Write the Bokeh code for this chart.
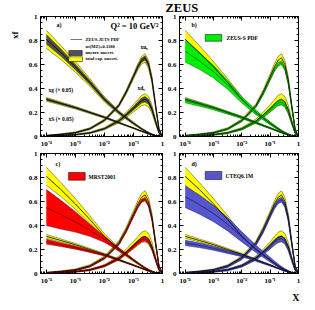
from math import pi
import numpy as np
from bokeh.plotting import figure
from bokeh.layouts import gridplot
from bokeh.models import (LinearAxis, LogAxis, FixedTicker, Label, BoxAnnotation,
                          CustomJSTickFormatter, Range1d)
from bokeh.embed import file_html
from bokeh.resources import INLINE

FONT = "Liberation Serif"

# ---------------- data ----------------
LOG_X = [-4, -3.5, -3, -2.5, -2, -1.5, -1.25, -1, -0.85, -0.72, -0.6, -0.48, -0.36, -0.24, -0.12, 0]
X = [10.0 ** e for e in LOG_X]

X_TICKS = [1e-4, 1e-3, 1e-2, 1e-1, 1]
Y_TICKS = [0, 0.2, 0.4, 0.6, 0.8, 1]

# ZEUS-JETS PDF: central values, total exp. half-width, uncorrelated half-width
ZJ_UV = [0.008, 0.018, 0.032, 0.065, 0.135, 0.26, 0.37, 0.50, 0.58, 0.635, 0.655, 0.60, 0.47, 0.26, 0.06, 0.0]
ZJ_UV_TOT = [0.003, 0.004, 0.006, 0.008, 0.01, 0.013, 0.017, 0.022, 0.027, 0.032, 0.035, 0.034, 0.028, 0.018, 0.006, 0.0]
ZJ_UV_UNC = [0.0015, 0.002, 0.003, 0.004, 0.005, 0.007, 0.009, 0.011, 0.013, 0.016, 0.017, 0.016, 0.013, 0.008, 0.003, 0.0]

ZJ_DV = [0.004, 0.008, 0.015, 0.03, 0.065, 0.13, 0.18, 0.235, 0.27, 0.30, 0.31, 0.29, 0.225, 0.125, 0.03, 0.0]
ZJ_DV_TOT = [0.002, 0.003, 0.004, 0.006, 0.009, 0.016, 0.022, 0.03, 0.037, 0.043, 0.046, 0.043, 0.034, 0.021, 0.007, 0.0]
ZJ_DV_UNC = [0.001, 0.0015, 0.002, 0.003, 0.0045, 0.008, 0.011, 0.015, 0.018, 0.021, 0.023, 0.021, 0.017, 0.01, 0.0035, 0.0]

ZJ_G = [0.81, 0.70, 0.58, 0.45, 0.31, 0.20, 0.155, 0.11, 0.085, 0.064, 0.046, 0.031, 0.018, 0.008, 0.002, 0.0]
ZJ_G_TOT = [0.075, 0.058, 0.044, 0.032, 0.022, 0.015, 0.012, 0.01, 0.008, 0.007, 0.006, 0.005, 0.004, 0.003, 0.001, 0.0]
ZJ_G_UNC = [0.04, 0.03, 0.023, 0.017, 0.012, 0.008, 0.0065, 0.0055, 0.0045, 0.004, 0.0035, 0.003, 0.002, 0.0015, 0.0005, 0.0]

ZJ_S = [0.31, 0.275, 0.24, 0.20, 0.16, 0.115, 0.092, 0.07, 0.056, 0.044, 0.033, 0.023, 0.014, 0.006, 0.002, 0.0]
ZJ_S_TOT = [0.016, 0.013, 0.011, 0.009, 0.008, 0.006, 0.005, 0.0045, 0.004, 0.0035, 0.003, 0.0025, 0.002, 0.0015, 0.0005, 0.0]
ZJ_S_UNC = [0.008, 0.0065, 0.0055, 0.0045, 0.004, 0.003, 0.0025, 0.0022, 0.002, 0.0018, 0.0015, 0.0012, 0.001, 0.0008, 0.0003, 0.0]

# ZEUS-S PDF
ZS_UV = [0.007, 0.016, 0.03, 0.062, 0.13, 0.25, 0.355, 0.48, 0.555, 0.60, 0.615, 0.565, 0.445, 0.25, 0.058, 0.0]
ZS_UV_ERR = [0.002, 0.003, 0.004, 0.005, 0.007, 0.009, 0.011, 0.013, 0.014, 0.015, 0.016, 0.015, 0.013, 0.009, 0.004, 0.0]
ZS_DV = [0.004, 0.008, 0.015, 0.03, 0.062, 0.122, 0.168, 0.22, 0.253, 0.278, 0.285, 0.265, 0.205, 0.115, 0.028, 0.0]
ZS_DV_ERR = [0.002, 0.003, 0.004, 0.005, 0.007, 0.01, 0.012, 0.015, 0.017, 0.019, 0.02, 0.019, 0.016, 0.01, 0.004, 0.0]
ZS_G = [0.71, 0.63, 0.54, 0.43, 0.305, 0.20, 0.155, 0.11, 0.085, 0.064, 0.046, 0.031, 0.018, 0.008, 0.002, 0.0]
ZS_G_ERR = [0.09, 0.07, 0.052, 0.037, 0.026, 0.018, 0.015, 0.012, 0.01, 0.008, 0.007, 0.006, 0.004, 0.003, 0.001, 0.0]
ZS_S = [0.30, 0.268, 0.235, 0.197, 0.158, 0.114, 0.091, 0.07, 0.056, 0.044, 0.033, 0.023, 0.014, 0.006, 0.002, 0.0]
ZS_S_ERR = [0.018, 0.015, 0.013, 0.011, 0.009, 0.007, 0.006, 0.005, 0.0045, 0.004, 0.0035, 0.003, 0.002, 0.0015, 0.0005, 0.0]

# MRST2001
MR_UV = [0.006, 0.014, 0.027, 0.058, 0.125, 0.245, 0.35, 0.48, 0.555, 0.605, 0.62, 0.57, 0.45, 0.255, 0.06, 0.0]
MR_UV_ERR = [0.002, 0.003, 0.004, 0.005, 0.006, 0.008, 0.009, 0.011, 0.012, 0.013, 0.014, 0.013, 0.011, 0.008, 0.003, 0.0]
MR_DV = [0.004, 0.008, 0.015, 0.03, 0.063, 0.125, 0.172, 0.225, 0.258, 0.283, 0.29, 0.27, 0.208, 0.115, 0.028, 0.0]
MR_DV_ERR = [0.002, 0.003, 0.004, 0.005, 0.007, 0.01, 0.012, 0.014, 0.016, 0.018, 0.019, 0.018, 0.015, 0.01, 0.004, 0.0]
MR_G = [0.55, 0.49, 0.43, 0.36, 0.285, 0.20, 0.157, 0.113, 0.087, 0.065, 0.046, 0.03, 0.017, 0.007, 0.0015, 0.0]
MR_G_ERR = [0.15, 0.12, 0.085, 0.05, 0.025, 0.012, 0.009, 0.007, 0.006, 0.005, 0.004, 0.003, 0.002, 0.0015, 0.0005, 0.0]
MR_S = [0.265, 0.24, 0.215, 0.185, 0.153, 0.112, 0.09, 0.069, 0.055, 0.043, 0.032, 0.022, 0.013, 0.006, 0.002, 0.0]
MR_S_ERR = [0.02, 0.015, 0.012, 0.009, 0.007, 0.005, 0.004, 0.0035, 0.003, 0.0025, 0.002, 0.0015, 0.001, 0.001, 0.0005, 0.0]

# CTEQ6.1M
CT_UV = [0.006, 0.014, 0.027, 0.058, 0.125, 0.245, 0.35, 0.48, 0.555, 0.60, 0.615, 0.57, 0.45, 0.255, 0.06, 0.0]
CT_UV_ERR = [0.003, 0.004, 0.006, 0.008, 0.01, 0.012, 0.014, 0.016, 0.018, 0.019, 0.02, 0.019, 0.016, 0.011, 0.004, 0.0]
CT_DV = [0.004, 0.008, 0.015, 0.03, 0.063, 0.125, 0.172, 0.225, 0.26, 0.283, 0.29, 0.27, 0.21, 0.118, 0.03, 0.0]
CT_DV_ERR = [0.003, 0.004, 0.005, 0.007, 0.009, 0.013, 0.016, 0.019, 0.021, 0.023, 0.024, 0.023, 0.019, 0.012, 0.005, 0.0]
CT_G = [0.64, 0.575, 0.50, 0.41, 0.305, 0.205, 0.16, 0.115, 0.089, 0.067, 0.048, 0.032, 0.019, 0.008, 0.002, 0.0]
CT_G_ERR = [0.09, 0.08, 0.068, 0.055, 0.042, 0.03, 0.025, 0.02, 0.016, 0.013, 0.01, 0.008, 0.006, 0.004, 0.001, 0.0]
CT_S = [0.255, 0.235, 0.21, 0.18, 0.15, 0.11, 0.089, 0.068, 0.055, 0.043, 0.032, 0.022, 0.013, 0.006, 0.002, 0.0]
CT_S_ERR = [0.022, 0.019, 0.016, 0.013, 0.01, 0.008, 0.007, 0.006, 0.005, 0.004, 0.0035, 0.003, 0.002, 0.0015, 0.0005, 0.0]

# ---------------- figure helpers ----------------
FRAME = 122
X_MINOR = [k * 10.0 ** e for e in range(-5, 0) for k in range(2, 10)]
Y_MINOR = [i * 0.05 for i in range(21) if i % 4 != 0]

XFMT_CODE = """
const e = Math.round(Math.log10(tick));
if (e == 0) { return '1'; }
const sup = {'-': '\u207b', '0': '\u2070', '1': '\u00b9', '2': '\u00b2', '3': '\u00b3', '4': '\u2074', '5': '\u2075'};
return '10' + String(e).split('').map(c => sup[c]).join('');
"""
YFMT_CODE = "return (Math.round(tick * 10) / 10).toString();"


def style_axis(ax, show):
    ax.major_tick_in = 4
    ax.major_tick_out = 0
    ax.minor_tick_in = 2
    ax.minor_tick_out = 0
    ax.axis_line_color = "black"
    ax.major_tick_line_color = "black"
    ax.minor_tick_line_color = "black"
    ax.major_label_text_font = FONT
    ax.major_label_text_font_style = "bold"
    ax.major_label_text_color = "black"
    if show:
        ax.major_label_text_font_size = "7px"
        ax.major_label_standoff = 3
    else:
        ax.major_label_text_font_size = "1px"
        ax.major_label_text_alpha = 0.0
        ax.major_label_standoff = 0


def make_fig(bl, br, bt, bb, title=None, title_location="above"):
    kw = {}
    if title is not None:
        kw = dict(title=title, title_location=title_location)
    p = figure(width=bl + FRAME + br, height=bt + FRAME + bb, x_axis_type="log",
               x_range=Range1d(10 ** -4.2, 1), y_range=Range1d(0, 1),
               output_backend="svg", toolbar_location=None, min_border=0, **kw)
    p.min_border_left = bl
    p.min_border_right = br
    p.min_border_top = bt
    p.min_border_bottom = bb
    p.outline_line_color = "black"
    p.xgrid.visible = False
    p.ygrid.visible = False
    p.xaxis.ticker = FixedTicker(ticks=X_TICKS, minor_ticks=X_MINOR)
    p.xaxis.formatter = CustomJSTickFormatter(code=XFMT_CODE)
    p.yaxis.ticker = FixedTicker(ticks=Y_TICKS, minor_ticks=Y_MINOR)
    p.yaxis.formatter = CustomJSTickFormatter(code=YFMT_CODE)
    style_axis(p.xaxis[0], True)
    style_axis(p.yaxis[0], True)
    top = LogAxis(ticker=FixedTicker(ticks=X_TICKS, minor_ticks=X_MINOR))
    style_axis(top, False)
    p.add_layout(top, "above")
    right = LinearAxis(ticker=FixedTicker(ticks=Y_TICKS, minor_ticks=Y_MINOR))
    style_axis(right, False)
    p.add_layout(right, "right")
    if title is not None:
        p.title.text_font = FONT
        p.title.text_font_style = "bold"
        p.title.text_color = "black"
    return p


def band(p, mid, half, fill, edge, alpha=1.0):
    mid = np.array(mid)
    half = np.array(half)
    lo, hi = mid - half, mid + half
    p.varea(x=X, y1=lo, y2=hi, fill_color=fill, fill_alpha=alpha)
    p.line(X, lo, line_color=edge, line_width=0.5)
    p.line(X, hi, line_color=edge, line_width=0.5)


ZJ = [(ZJ_UV, ZJ_UV_TOT, ZJ_UV_UNC), (ZJ_DV, ZJ_DV_TOT, ZJ_DV_UNC),
      (ZJ_G, ZJ_G_TOT, ZJ_G_UNC), (ZJ_S, ZJ_S_TOT, ZJ_S_UNC)]


def draw_zj(p, inner):
    for mid, tot, unc in ZJ:
        band(p, mid, tot, "#ffff00", "#3a3a00")
    if inner:
        for mid, tot, unc in ZJ:
            band(p, mid, unc, "#505050", "#202020")


def draw_zj_lines(p):
    for mid, tot, unc in ZJ:
        p.line(X, mid, line_color="black", line_width=0.8)


def draw_cmp(p, sets, fill, edge):
    for mid, err in sets:
        band(p, mid, err, fill, edge)
    draw_zj_lines(p)
    for mid, err in sets:
        p.line(X, mid, line_color=edge, line_width=0.7)


def lab(p, x, y, text, size, align="left", baseline="middle"):
    p.add_layout(Label(x=x, y=y, x_units="screen", y_units="screen", text=text,
                       text_font=FONT, text_font_style="bold", text_font_size=size,
                       text_align=align, text_baseline=baseline,
                       text_color="black"))


def box(p, l, r, b, t, fill, line=True):
    p.add_layout(BoxAnnotation(left=l, right=r, bottom=b, top=t,
                               left_units="screen", right_units="screen",
                               bottom_units="screen", top_units="screen",
                               fill_color=fill, fill_alpha=1.0,
                               line_color="black", line_width=0.5,
                               line_alpha=1.0 if line else 0.0))


# ---------------- panels ----------------
pa = make_fig(40, 2, 15, 13, title="xf", title_location="left")
pa.title.align = "right"
pa.title.offset = 15
pa.title.standoff = 11
pa.title.text_font_size = "9px"

pb = make_fig(12, 3, 15, 13, title="ZEUS", title_location="above")
pb.title.align = "left"
pb.title.offset = -14
pb.title.standoff = 0
pb.title.vertical_align = "top"
pb.title.text_font_size = "12.5px"

pc = make_fig(40, 2, 3, 30)

pd = make_fig(12, 3, 3, 30, title="X", title_location="below")
pd.title.align = "right"
pd.title.offset = -1
pd.title.standoff = 5
pd.title.text_font_size = "10px"

# a) ZEUS-JETS
draw_zj(pa, True)
draw_zj_lines(pa)
lab(pa, 16, 112, "a)", "6px")
lab(pa, 118, 111, "Q\u00b2 = 10 GeV\u00b2", "8.5px", align="right")
box(pa, 30, 41.7, 96.6, 97.4, "#777777", line=False)
lab(pa, 45, 97.5, "ZEUS-JETS PDF", "4.5px")
lab(pa, 45, 90.3, "\u03b1s(MZ)=0.1180", "4.5px")
box(pa, 28.3, 41.7, 81, 86, "#505050")
lab(pa, 45, 83.7, "uncorr. uncert.", "4.5px")
box(pa, 28.3, 42, 75, 79.7, "#ffff00")
lab(pa, 45, 77.7, "total exp. uncert.", "4.5px")
lab(pa, 8, 47, "xg (\u00d7 0.05)", "5.5px")
lab(pa, 8, 18, "xS (\u00d7 0.05)", "5.5px")
lab(pa, 100, 90, "xu", "5.5px")
lab(pa, 105.5, 88.5, "v", "4px")
lab(pa, 97, 49, "xd", "5.5px")
lab(pa, 102.5, 47.5, "v", "4px")

# b) ZEUS-S
draw_zj(pb, False)
draw_cmp(pb, [(ZS_UV, ZS_UV_ERR), (ZS_DV, ZS_DV_ERR), (ZS_G, ZS_G_ERR), (ZS_S, ZS_S_ERR)],
         "#00ee00", "#006000")
lab(pb, 12, 112, "b)", "6px")
box(pb, 25.7, 42.3, 95.3, 102, "#00ee00")
lab(pb, 47, 99, "ZEUS-S PDF", "5.5px")

# c) MRST2001
draw_zj(pc, False)
draw_cmp(pc, [(MR_UV, MR_UV_ERR), (MR_DV, MR_DV_ERR), (MR_G, MR_G_ERR), (MR_S, MR_S_ERR)],
         "#ff0000", "#600000")
lab(pc, 15, 110, "c)", "6px")
box(pc, 28, 44.7, 93.3, 101, "#ff0000")
lab(pc, 48, 97, "MRST2001", "5.5px")

# d) CTEQ6.1M
draw_zj(pd, False)
draw_cmp(pd, [(CT_UV, CT_UV_ERR), (CT_DV, CT_DV_ERR), (CT_G, CT_G_ERR), (CT_S, CT_S_ERR)],
         "#5555cc", "#1a1a60")
lab(pd, 12, 110, "d)", "6px")
box(pd, 25.7, 42.3, 94, 102, "#5555cc")
lab(pd, 46, 98, "CTEQ6.1M", "5.5px")

grid = gridplot([[pa, pb], [pc, pd]], toolbar_location=None)

with open("out.html", "w", encoding="utf-8") as f:
    f.write(file_html(grid, INLINE))
